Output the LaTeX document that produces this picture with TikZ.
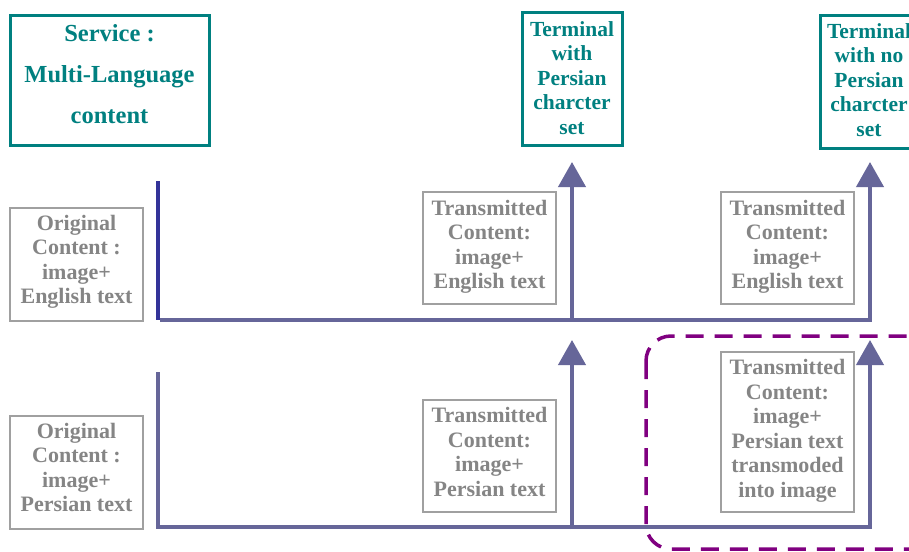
\documentclass[tikz,border=0pt]{standalone}
\usepackage{fontspec}
\setmainfont{Liberation Serif}
\usetikzlibrary{arrows.meta}
\definecolor{tealc}{HTML}{008080}
\definecolor{greytxt}{HTML}{858585}
\definecolor{greybox}{HTML}{A0A0A0}
\definecolor{flow}{HTML}{666699}
\definecolor{flowdark}{HTML}{333399}
\definecolor{purp}{HTML}{800080}
\tikzset{
  endpoint/.style={draw=tealc, line width=3pt, inner sep=0pt},
  endtext/.style={text=tealc, align=center, inner sep=0pt,
    font=\bfseries\fontsize{21.5}{24.5}\selectfont},
  contentbox/.style={draw=greybox, line width=1.6pt, inner sep=0pt, minimum width=133pt},
  contenttext/.style={text=greytxt, align=center, inner sep=0pt,
    font=\bfseries\fontsize{22}{24.5}\selectfont},
  flowline/.style={draw=flow, line width=4pt},
  uparrow/.style={flowline, -{Triangle[length=25pt,width=27pt]}},
  transmode/.style={draw=purp, line width=3.5pt, dash pattern=on 18pt off 11pt, rounded corners=25pt}
}
\begin{document}
\begin{tikzpicture}[x=1pt,y=-1pt]
\clip (0,0) rectangle (909,551);
\fill[white] (0,0) rectangle (909,551);

% service and terminals
\node[endpoint, minimum width=199pt, minimum height=129pt] (service) at (109.5,80.5) {};
\node[endtext, font=\bfseries\fontsize{24.5}{41}\selectfont] (servicetxt) at (109.5,74)
  {Service :\\Multi-Language\\content};
\node[endpoint, minimum width=100pt, minimum height=132pt] (term1) at (572,79) {};
\node[endtext] (term1txt) at (572,78)
  {Terminal\\with\\Persian\\charcter\\set};
\node[endpoint, minimum width=100pt, minimum height=132pt] (term2) at (870,82) {};
\node[endtext] (term2txt) at (869,80)
  {Terminal\\with no\\Persian\\charcter\\set};

% content boxes
\node[contentbox, minimum height=113pt] (orig1) at (76.5,264.5) {};
\node[contenttext] (orig1txt) at (76.5,262)
  {Original\\Content :\\image+\\English text};
\node[contentbox, minimum height=112pt] (tx1) at (489.5,248) {};
\node[contenttext] (tx1txt) at (489.5,247)
  {Transmitted\\Content:\\image+\\English text};
\node[contentbox, minimum height=112pt] (tx2) at (787.5,248) {};
\node[contenttext] (tx2txt) at (787.5,247)
  {Transmitted\\Content:\\image+\\English text};
\node[contentbox, minimum height=113pt] (orig2) at (76.5,472.5) {};
\node[contenttext] (orig2txt) at (76.5,467.5)
  {Original\\Content :\\image+\\Persian text};
\node[contentbox, minimum height=112pt] (tx3) at (489.5,456) {};
\node[contenttext] (tx3txt) at (489.5,452)
  {Transmitted\\Content:\\image+\\Persian text};
\node[contentbox, minimum height=160pt] (tx4) at (787.5,432) {};
\node[contenttext] (tx4txt) at (787.5,431)
  {Transmitted\\Content:\\image+\\Persian text\\transmoded\\into image};

% path points of the two delivery chains
\coordinate (a0) at (158,181);
\coordinate (a1) at (158,320);
\coordinate (a2) at (872,320);
\coordinate (a3) at (572,320);
\coordinate (a4) at (870,320);
\coordinate (a3t) at (572,162);
\coordinate (a4t) at (870,162);
\coordinate (b0) at (158,372);
\coordinate (b1) at (158,529);
\coordinate (b2) at (872,529);
\coordinate (b3) at (572,529);
\coordinate (b4) at (870,529);
\coordinate (b3t) at (572,340);
\coordinate (b4t) at (870,340);

% English chain
\draw[draw=flowdark, line width=4pt] (a0) -- (a1);
\draw[flowline] ([xshift=2pt]a1) -- (a2);
\draw[uparrow] (a3) -- (a3t);
\draw[uparrow] ([yshift=2pt]a4) -- (a4t);

% Persian chain
\draw[flowline] (b0) -- ([yshift=2pt]b1) -- ([yshift=2pt]b2);
\draw[uparrow] (b3) -- (b3t);
\draw[uparrow] ([yshift=2pt]b4) -- (b4t);

% transmoding region
\coordinate (m0) at (646,336);
\coordinate (m1) at (940,549);
\draw[transmode] (m0) rectangle (m1);
\end{tikzpicture}
\end{document}
